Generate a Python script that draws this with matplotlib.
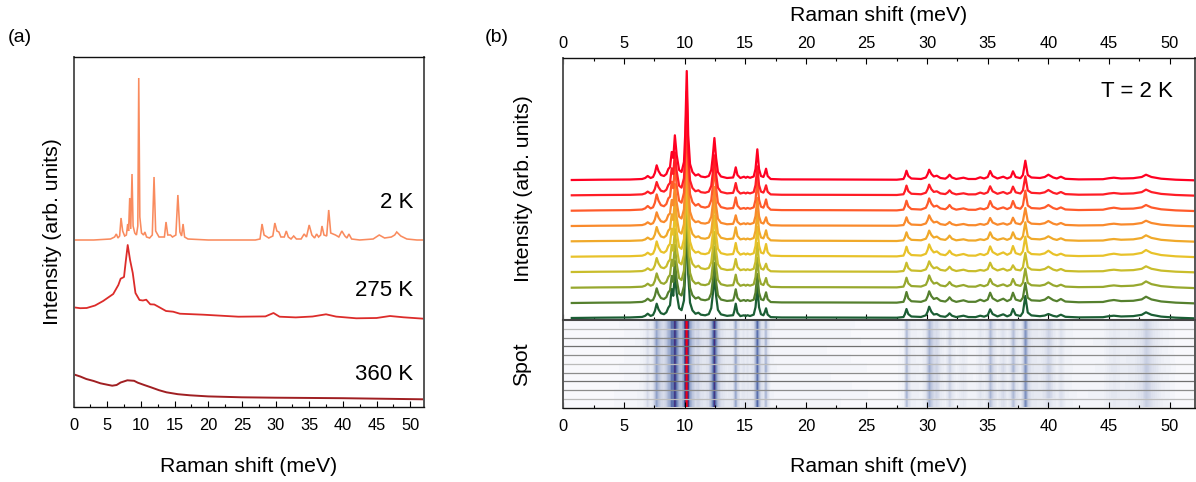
import numpy as np
import matplotlib
matplotlib.use("Agg")
import matplotlib.pyplot as plt
from matplotlib.colors import LinearSegmentedColormap
from matplotlib.ticker import MultipleLocator

plt.rcParams['font.family'] = ['Liberation Sans', 'DejaVu Sans']

# ---------- panel (a): values (arb. units) ----------
x_2k = [0, 3, 5.5, 6.1, 6.36, 6.6, 6.85, 7.06, 7.3, 7.6, 7.85, 8.05, 8.18, 8.35, 8.5, 8.69, 8.85, 9.1, 9.35, 9.55,
        9.69, 9.85, 10.1, 10.4, 10.6, 10.85, 11.3, 11.7, 11.96, 12.2, 12.7, 13.5, 13.74, 14.0, 14.4, 14.7, 15.2,
        15.5, 15.8, 16.05, 16.27, 16.5, 17, 20, 27, 27.7, 28.0, 28.3, 29.0, 29.6, 29.9, 30.2, 30.5, 30.8, 31.3,
        31.6, 31.9, 32.3, 32.7, 33.1, 33.8, 34.25, 34.6, 35.0, 35.4, 35.8, 36.1, 36.4, 36.7, 36.9, 37.2, 37.6,
        37.9, 38.2, 38.9, 39.4, 39.85, 40.3, 40.6, 40.9, 41.3, 42.5, 44.5, 45.4, 46.2, 47.2, 47.7, 48.0, 48.6,
        49.5, 51, 52]
y_2k = [167, 167, 168, 170, 173, 169, 171, 189, 176, 171, 172, 183, 176, 209, 178, 233, 181, 174, 172, 181,
        329, 190, 174, 172, 175, 170, 169, 172, 230, 176, 170, 170, 185, 172, 172, 170, 172,
        212, 175, 171, 183, 170, 168, 167, 167, 168, 183, 172, 169, 171, 184, 176, 175, 170, 170,
        176, 170, 168, 171, 168, 168, 173, 170, 182, 172, 169, 173, 170, 172, 181, 172, 171,
        197, 174, 172, 170, 176, 171, 169, 173, 168, 167, 168, 172, 169, 170, 172, 175, 171,
        168, 167, 167]

x_275 = [0, 1, 1.96, 3.2, 4.4, 5.9, 6.66, 7.0, 7.5, 7.75, 8.05, 8.4, 8.8, 9.2, 9.8, 10.3, 10.8, 11.4, 12.0, 12.6,
         13.74, 14.8, 15.8, 19.3, 24.5, 28.5, 29.7, 30.6, 33, 35.5, 37.5, 39, 42, 45, 47, 49, 52]
y_275 = [99.7, 98.8, 99, 101.5, 106, 113, 122, 128.3, 130, 145, 162, 147, 134, 114, 107, 106.5, 107.3, 102.7, 102.5, 100.3,
         96, 95.3, 93.3, 92.3, 90.3, 90.6, 94, 90.3, 89.6, 90.5, 92.7, 90.4, 88.7, 89, 91, 89.7, 88.3]

x_360 = [0, 1, 1.9, 3, 4, 5, 5.75, 6.4, 7, 8, 9.0, 9.55, 10.5, 11.5, 12.7, 13.8, 15.5, 17.3, 20, 25, 30, 40, 52]
y_360 = [32.7, 30.5, 28, 26, 23.7, 22.3, 21.3, 22, 24.5, 26.7, 26.2, 24.3, 22, 19.7, 16.8, 14.7, 12.8, 11.7, 10.6, 9.7, 9.3, 8.8, 7.7]

panel_a_labels = ["2 K", "275 K", "360 K"]

# ---------- panel (b): line shape of the top spectrum and peak heights per spot ----------
x_shift = [0.7, 3, 5.5, 6.5, 6.75, 6.96, 7.2, 7.4, 7.55, 7.7, 7.85, 8.05, 8.3, 8.5, 8.66, 8.8, 8.94, 9.07, 9.2, 9.35,
           9.55, 9.75, 9.95, 10.05, 10.18, 10.3, 10.45, 10.65, 10.9, 11.14, 11.35, 11.7, 12.0, 12.2, 12.33, 12.46,
           12.6, 12.75, 13.0, 13.5, 14.0, 14.1, 14.22, 14.36, 14.6, 14.9, 15.05, 15.18, 15.4, 15.7, 15.85, 16.0,
           16.14, 16.3, 16.5, 16.6, 16.72, 16.85, 17.1, 18, 22, 27.5, 28.05, 28.17, 28.3, 28.45, 28.7, 29.5, 29.9,
           30.05, 30.17, 30.35, 30.55, 30.8, 31.1, 31.5, 31.7, 31.85, 32.05, 32.4, 33.0, 33.4, 34.0, 34.38, 34.7,
           35.0, 35.2, 35.4, 35.8, 36.28, 36.6, 36.9, 37.08, 37.3, 37.7, 37.9, 38.1, 38.3, 38.6, 39.3, 39.7, 40.0,
           40.4, 40.7, 41.03, 41.4, 42.5, 44.5, 45.0, 45.4, 46.0, 47.0, 47.7, 48.05, 48.5, 49.3, 50.5, 52]
y_shape = [0, 0.3, 0.5, 1.0, 2, 4, 2, 3, 7, 14.7, 9, 5, 4, 6, 11, 13, 28, 22, 44.7, 25,
           10, 8, 18, 45, 109, 45, 16, 8, 4.5, 5.7, 3.5, 2.8, 4, 10, 24, 42,
           22, 8, 3.5, 2, 2.5, 6, 12.7, 5, 2, 3.3, 2.2, 3.2, 2.2, 3.5, 11, 30.7,
           11, 4, 3, 6, 11.3, 4, 1, 0.6, 0.5, 0.3, 1, 4, 9.3, 4, 1.5, 1, 2.5,
           6, 10.3, 6, 3.5, 4.3, 2, 1.3, 3, 5.3, 2.5, 1, 2.3, 1, 1, 2.7, 1.5,
           3, 9, 4, 1.5, 3.3, 1.5, 3, 8.7, 3, 1.8, 5, 19.3, 5, 2.5, 2, 3, 5.3,
           2.5, 1.5, 3.3, 1.2, 0.6, 0.8, 1.8, 2.3, 1.5, 1.8, 3, 5.3, 3, 1.3, 0.3, -0.3]

peak_pos = [6.96, 7.7, 8.66, 8.94, 9.2, 10.18, 11.14, 12.46, 14.22, 14.9, 16.0, 16.72,
            28.3, 30.17, 30.8, 31.85, 33.0, 34.38, 35.2, 36.28, 37.08, 38.1, 40.0, 41.03, 45.4, 48.05]
spot_1 = [4.0, 14.7, 11.0, 28, 44.7, 109, 5.7, 42, 12.7, 3.3, 30.7, 11.3, 9.3, 10.3, 4.3, 5.3, 2.3, 2.7, 9.0, 3.3, 8.7, 19.3, 5.3, 3.3, 2.3, 5.3]
spot_2 = [3.7, 13.3, 10.3, 27, 43, 104, 5.0, 40, 12.3, 2.7, 29, 10.0, 9.7, 10.7, 4.0, 5.0, 2.0, 2.7, 9.0, 3.3, 8.7, 19, 5.3, 3.3, 2.3, 5.7]
spot_3 = [4.7, 16.3, 12.3, 29, 45, 108, 6.7, 43, 13.3, 2.7, 31, 11.3, 10.0, 12.3, 5.0, 5.7, 2.3, 2.3, 9.7, 3.3, 9.7, 20, 5.7, 3.3, 3.0, 5.7]
spot_4 = [3.7, 13.7, 11.0, 26, 42, 101, 4.7, 39, 10.7, 2.7, 28, 8.7, 8.7, 10.7, 4.3, 4.0, 2.0, 2.0, 8.0, 2.7, 8.3, 18, 5.0, 3.0, 2.3, 5.3]
spot_5 = [3.7, 14.3, 10.7, 27, 43, 104, 5.0, 41, 14.0, 2.7, 30, 11.0, 9.0, 10.7, 4.7, 5.7, 2.0, 2.0, 9.0, 3.0, 9.0, 19, 5.0, 3.0, 2.3, 6.0]
spot_6 = [4.0, 15.3, 10.7, 28, 44, 106, 5.0, 41, 13.7, 3.3, 30, 12.7, 10.0, 12.3, 5.3, 6.0, 2.7, 2.7, 10.3, 4.3, 10.7, 20, 6.0, 3.0, 3.0, 6.7]
spot_7 = [3.7, 14.0, 10.3, 27, 43, 103, 6.3, 40, 13.0, 2.7, 29, 8.3, 9.3, 10.7, 4.7, 5.3, 2.3, 2.0, 9.3, 3.3, 6.7, 19, 5.3, 3.0, 2.3, 5.7]
spot_8 = [4.0, 14.3, 10.7, 28, 43, 104, 5.0, 41, 13.0, 3.0, 30, 9.7, 10.0, 12.3, 5.0, 5.7, 2.7, 2.7, 8.7, 3.3, 8.7, 19, 5.3, 3.0, 2.3, 6.3]
spot_9 = [4.3, 14.7, 10.7, 27, 42, 102, 5.7, 40, 13.7, 3.0, 29, 10.7, 11.0, 11.7, 5.0, 5.7, 2.7, 3.3, 10.3, 4.3, 10.3, 20, 6.0, 4.0, 3.0, 6.3]
spot_10 = [4.3, 14.3, 10.3, 29, 44, 106, 5.3, 42, 14.3, 2.7, 31, 9.7, 9.0, 11.3, 4.0, 4.7, 2.3, 2.3, 8.7, 3.7, 9.0, 22, 4.0, 3.3, 2.3, 5.7]
spots = [spot_1, spot_2, spot_3, spot_4, spot_5, spot_6, spot_7, spot_8, spot_9, spot_10]
spot_baseline = [140, 124.7, 109.3, 94, 78.7, 63.3, 48, 32.3, 17, 2]

spot_colors = ['#FF0022', '#FF1D26', '#FF5A2A', '#F98A2C', '#F0A92A', '#E8C22A', '#C9BD2C', '#97A82E', '#55802E', '#1B5E34']
row_line_grays = ['#BBBBBB', '#8C8C8C', '#707070', '#8C8C8C', '#BBBBBB', '#8C8C8C', '#707070', '#8C8C8C', '#BBBBBB']

W, H = 1196, 482
fig = plt.figure(figsize=(W / 100, H / 100), dpi=100)


def add_axes_px(l, t, r, b):
    return fig.add_axes([l / W, 1 - b / H, (r - l) / W, (b - t) / H])


def style_spines(ax, dark=('top', 'bottom'), gray=('left', 'right')):
    for s in dark:
        ax.spines[s].set_color('#111111')
        ax.spines[s].set_linewidth(1.0)
    for s in gray:
        ax.spines[s].set_color('#555555')
        ax.spines[s].set_linewidth(1.4)


def xticks(ax, **kw):
    ax.xaxis.set_major_locator(MultipleLocator(5))
    ax.xaxis.set_minor_locator(MultipleLocator(2.5))
    ax.tick_params(axis='x', which='major', direction='in', length=4.5, width=0.8, labelsize=11.8, pad=8, **kw)
    ax.tick_params(axis='x', which='minor', direction='in', length=2.5, width=0.8, **kw)
    ax.set_yticks([])
    ax.set_xlim(0, 52.05)


LABEL = 15.3
# panel (a)
axa = add_axes_px(73.5, 57, 424, 407)
axa.set_ylim(0, 350)
axa.plot(x_2k, y_2k, color='#F98B5E', lw=1.15, solid_joinstyle='miter')
axa.plot(x_275, y_275, color='#DC2C2A', lw=1.3)
axa.plot(x_360, y_360, color='#A01F22', lw=1.4)
xticks(axa)
style_spines(axa)
axa.set_xlabel('Raman shift (meV)', fontsize=LABEL, labelpad=17)
axa.set_ylabel('Intensity (arb. units)', fontsize=LABEL, labelpad=8)
for lab, yy in zip(panel_a_labels, [204, 116, 33]):
    axa.text(0.969, yy / 350, lab, transform=axa.transAxes, ha='right', va='center', fontsize=16)
fig.text(8 / W, 1 - 37 / H, '(a)', fontsize=14, va='center')
fig.text(485 / W, 1 - 37 / H, '(b)', fontsize=14, va='center')

# panel (b) spectra
axb = add_axes_px(563.3, 58, 1194.5, 320)
axb.set_ylim(0, 262)
x_arr = np.array(x_shift)
shape = np.array(y_shape)
ref = np.array(spot_1)
curves = [shape * np.interp(x_arr, peak_pos, np.array(s) / ref) for s in spots]
for c, base, col in list(zip(curves, spot_baseline, spot_colors))[::-1]:
    axb.plot(x_arr, c + base, color=col, lw=1.6, solid_joinstyle='round')
xticks(axb)
style_spines(axb)
axb.tick_params(axis='x', which='both', top=True, bottom=True, labeltop=True, labelbottom=False, pad=5)
axb.xaxis.set_label_position('top')
axb.set_xlabel('Raman shift (meV)', fontsize=LABEL, labelpad=11)
axb.set_ylabel('Intensity (arb. units)', fontsize=LABEL, labelpad=22)
axb.text(0.965, 0.873, 'T = 2 K', transform=axb.transAxes, ha='right', va='center', fontsize=16)

# panel (b) map
axm = add_axes_px(563.3, 320, 1194.5, 407.5)
cmap = LinearSegmentedColormap.from_list('spot', [
    (0.0, '#F8F8FC'), (0.02, '#E6E9F2'), (0.05, '#C9D0E3'), (0.1, '#A3B1D2'), (0.2, '#6F84B8'), (0.3, '#3E5099'),
    (0.4, '#4A2A78'), (0.6, '#A01040'), (0.8, '#E80020'), (1.0, '#FF0010')])
grid = np.arange(0, 52.05, 0.02)
img = np.array([np.interp(grid, x_arr, c) for c in curves])
axm.imshow(img, cmap=cmap, vmin=0, vmax=109, aspect='auto', interpolation='nearest',
           extent=(0, 52.05, 10, 0))
for k, g in zip(range(1, 10), row_line_grays):
    axm.axhline(k, color=g, lw=0.9)
xticks(axm)
style_spines(axm)
axm.spines['top'].set_color('#444444')
axm.spines['top'].set_linewidth(1.5)
axm.set_ylim(10, 0)
axm.set_xlabel('Raman shift (meV)', fontsize=LABEL, labelpad=17)
axm.set_ylabel('Spot', fontsize=LABEL, labelpad=23)

fig.savefig('out.png', dpi=100)
